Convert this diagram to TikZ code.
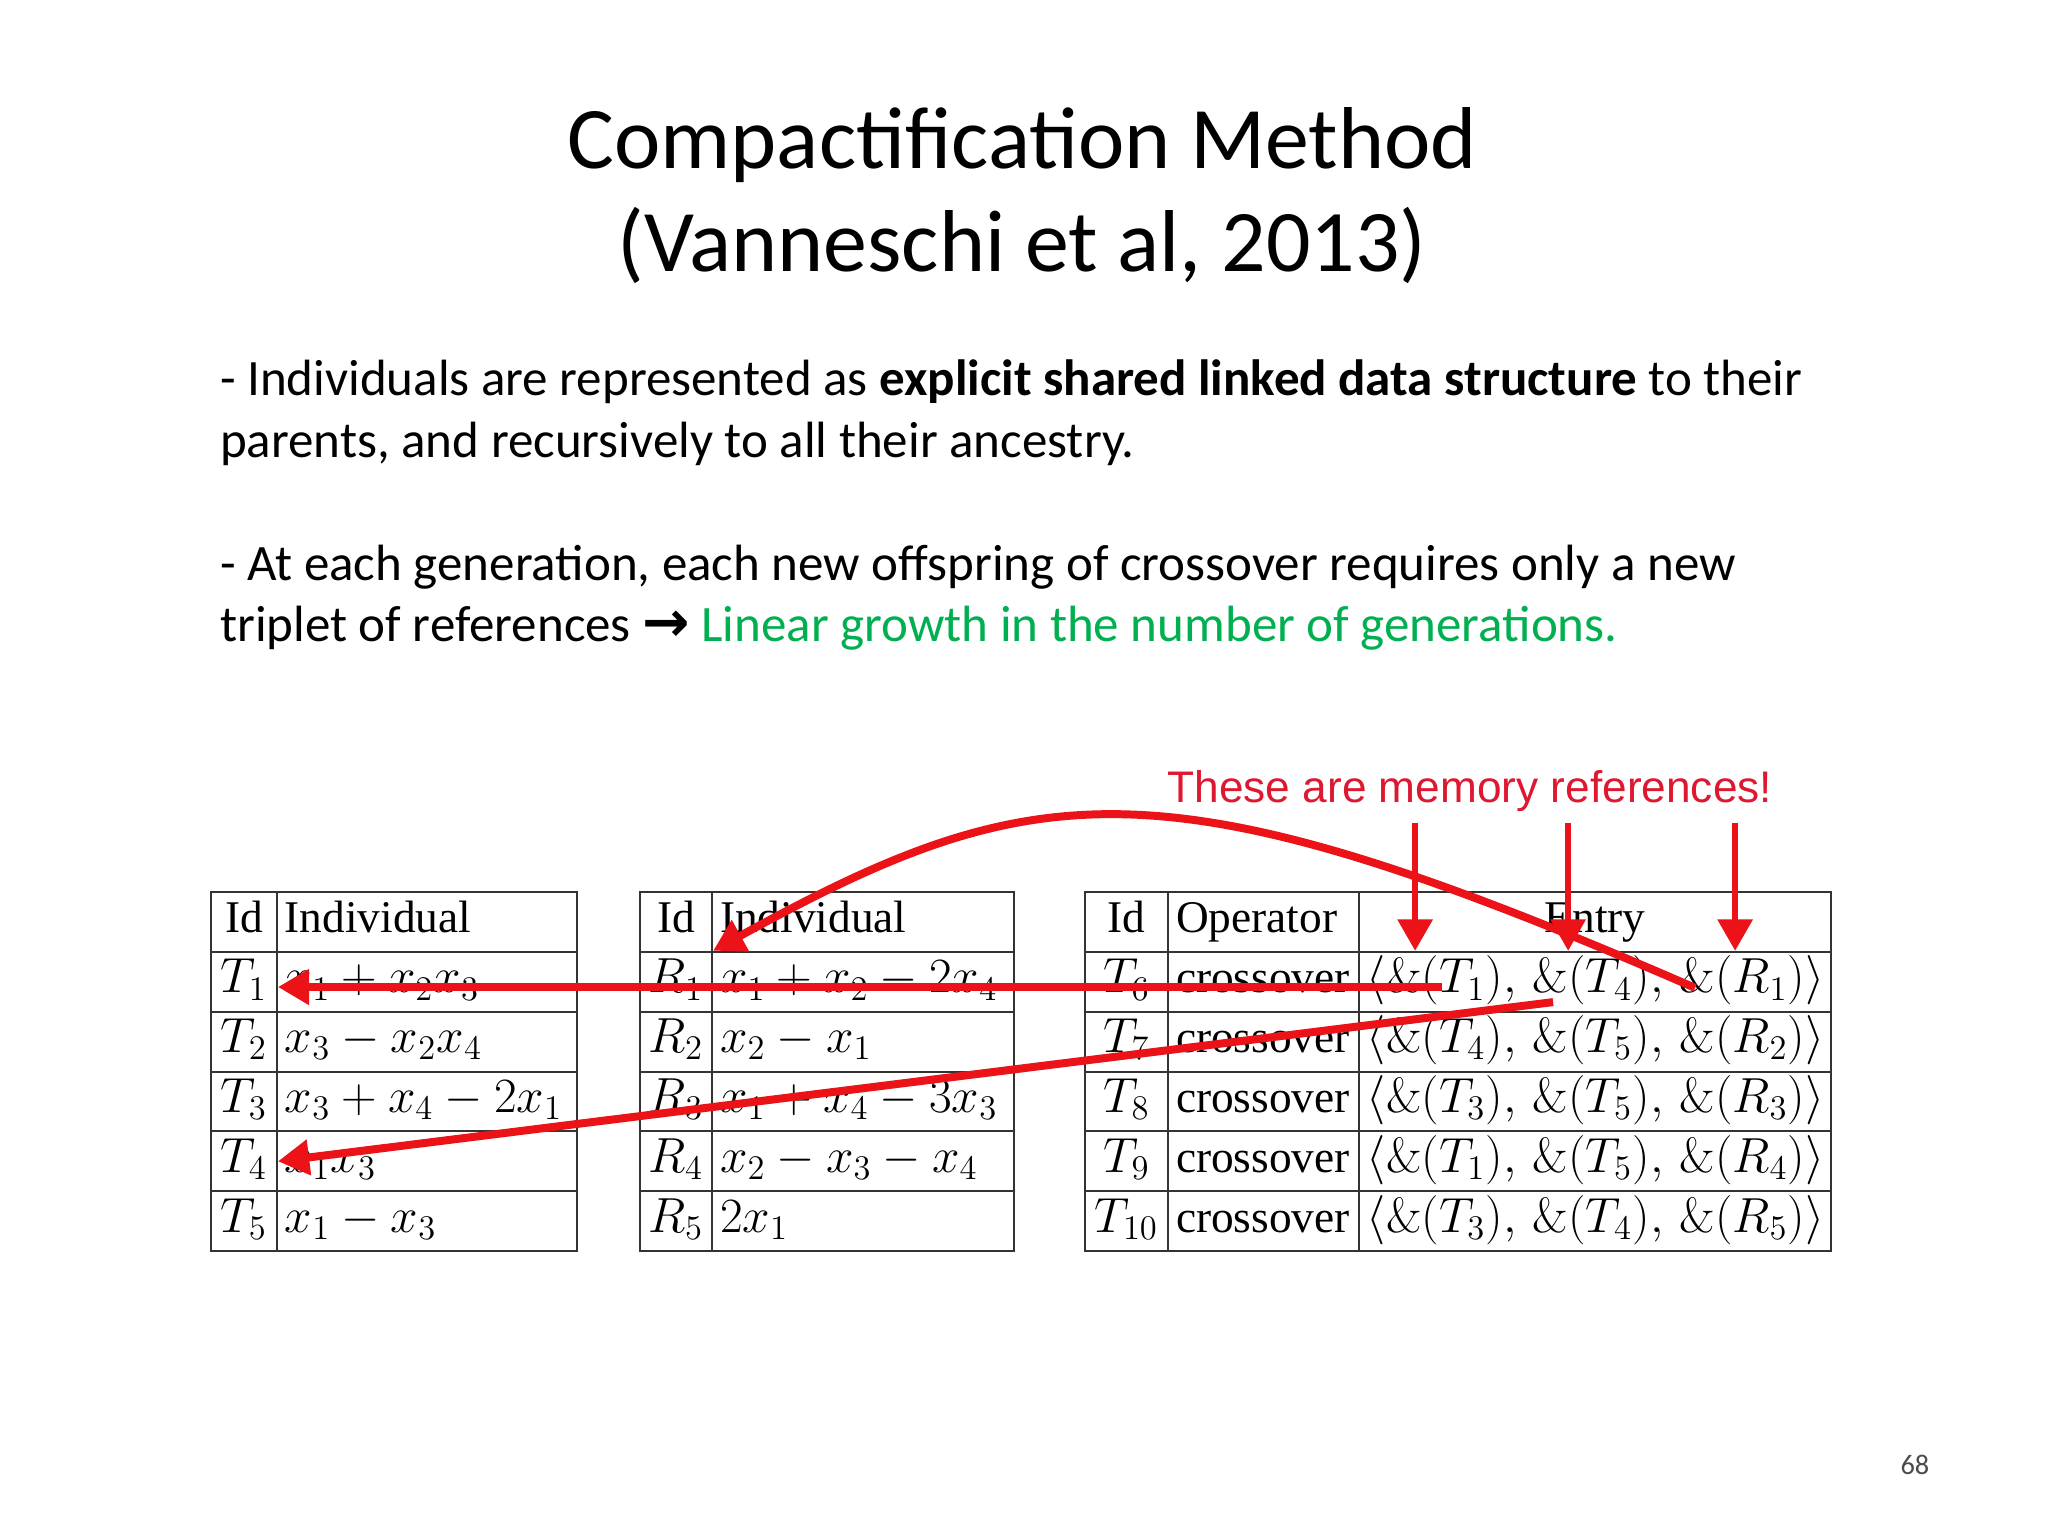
\RequirePackage{fix-cm}
\documentclass[tikz,border=0pt]{standalone}
\usepackage[no-math]{fontspec}
\setmainfont{Carlito}
\newfontfamily\tabfont{Liberation Serif}
\newfontfamily\notefont{Liberation Sans}
\newfontfamily\symfont{DejaVu Sans}
\usetikzlibrary{arrows.meta}

\definecolor{growgreen}{RGB}{0,176,80}
\definecolor{arrowred}{RGB}{235,18,24}
\definecolor{notered}{RGB}{222,24,48}

\newcommand\reftriple[3]{$\langle\&(#1),\,\&(#2),\,\&(#3)\rangle$}

\tikzset{
  cell/.style={draw=black!80, line width=0.7bp, inner sep=0pt, anchor=north west,
    minimum height=21.05bp, text height=11.5bp, text depth=3.8bp,
    font=\tabfont\fontsize{16}{18}\selectfont},
  mathcell/.style={font=\tabfont\fontsize{17.4}{18}\selectfont},
  idcell/.style={cell, minimum width=#1},
  txtcell/.style={cell, text width=#1, inner xsep=2.8bp, align=left},
  ref/.style={draw=arrowred, line width=2.8bp, -{Triangle[width=12bp,length=11bp]}},
  memoref/.style={ref, line width=2bp},
  title/.style={font=\fontsize{31}{36.6}\selectfont, inner sep=0pt, anchor=base},
  body/.style={font=\fontsize{18}{21.8}\selectfont, inner sep=0pt, anchor=base west, align=left},
}

\begin{document}
\begin{tikzpicture}[x=1bp, y=-1bp]

    \fill[white] (0,0) rectangle (720,540);
    \useasboundingbox (0,0) rectangle (720,540);

    \node[title] (title1) at (359.4,59.1) {Compactification Method};
    \node[title] (title2) at (359.4,95.6) {(Vanneschi et al, 2013)};

    \node[body] (para1) at (77.2,160.7) {- Individuals are represented as \textbf{explicit shared linked data structure} to their\\
      parents, and recursively to all their ancestry.};
    \node[body] (para2) at (77.2,225.7) {- At each generation, each new offspring of crossover requires only a new\\
      triplet of references {\symfont\bfseries\fontsize{20}{20}\selectfont →} \textcolor{growgreen}{Linear growth in the number of generations.}};

    % parents T
    \node[idcell=23.2bp] (tid0) at (73.8,313.2) {Id};
    \node[txtcell=99.9bp] (tind0) at (97.0,313.2) {Individual};
    \foreach \id/\ind [count=\i] in {
        $T_1$/$x_1+x_2x_3$,
        $T_2$/$x_3-x_2x_4$,
        $T_3$/$x_3+x_4-2x_1$,
        $T_4$/$x_1x_3$,
        $T_5$/$x_1-x_3$} {
      \node[idcell=23.2bp, mathcell] (tid\i) at (73.8,{313.2+21.05*\i}) {\id};
      \node[txtcell=99.9bp, mathcell] (tind\i) at (97.0,{313.2+21.05*\i}) {\ind};
    }

    % random trees R
    \node[idcell=25.4bp] (rid0) at (224.6,313.2) {Id};
    \node[txtcell=100.5bp] (rind0) at (250.0,313.2) {Individual};
    \foreach \id/\ind [count=\i] in {
        $R_1$/$x_1+x_2-2x_4$,
        $R_2$/$x_2-x_1$,
        $R_3$/$x_1+x_4-3x_3$,
        $R_4$/$x_2-x_3-x_4$,
        $R_5$/$2x_1$} {
      \node[idcell=25.4bp, mathcell] (rid\i) at (224.6,{313.2+21.05*\i}) {\id};
      \node[txtcell=100.5bp, mathcell] (rind\i) at (250.0,{313.2+21.05*\i}) {\ind};
    }

    % offspring
    \node[idcell=29.2bp] (cid0) at (381.1,313.2) {Id};
    \node[txtcell=61.5bp] (cop0) at (410.3,313.2) {Operator};
    \node[idcell=166.0bp] (cent0) at (477.4,313.2) {Entry};
    \foreach \id/\ent [count=\i] in {
        $T_6$/{\reftriple{T_1}{T_4}{R_1}},
        $T_7$/{\reftriple{T_4}{T_5}{R_2}},
        $T_8$/{\reftriple{T_3}{T_5}{R_3}},
        $T_9$/{\reftriple{T_1}{T_5}{R_4}},
        $T_{10}$/{\reftriple{T_3}{T_4}{R_5}}} {
      \node[idcell=29.2bp, mathcell] (cid\i) at (381.1,{313.2+21.05*\i}) {\id};
      \node[txtcell=61.5bp] (cop\i) at (410.3,{313.2+21.05*\i}) {crossover};
      \node[txtcell=160.4bp, mathcell] (cent\i) at (477.4,{313.2+21.05*\i}) {\ent};
    }

    \node[font=\notefont\fontsize{15.6}{18}\selectfont, text=notered, inner sep=0pt, anchor=base west]
      (memo) at (410.3,282) {These are memory references!};

    \coordinate (m1) at (497.5,289.3);
    \coordinate (m2) at (551.3,289.3);
    \coordinate (m3) at (610.0,289.3);
    \coordinate (refT1) at (506.9,347.0);
    \coordinate (refT4) at (546.0,352.3);
    \coordinate (refR1) at (595.9,347.3);

    \draw[ref] (refT1) -- (refT1 -| tid1.east);
    \draw[ref] (refT4) -- (tid4.east);
    \draw[ref] (refR1) .. controls (409,266) and (364,272) .. (rid1.north east);
    \foreach \m in {m1,m2,m3}
      \draw[memoref] (\m) -- (\m |- cent1.north);

    \node[font=\fontsize{10}{12}\selectfont, text=black!70] (pagenum) at (673.2,515) {68};

\end{tikzpicture}
\end{document}
